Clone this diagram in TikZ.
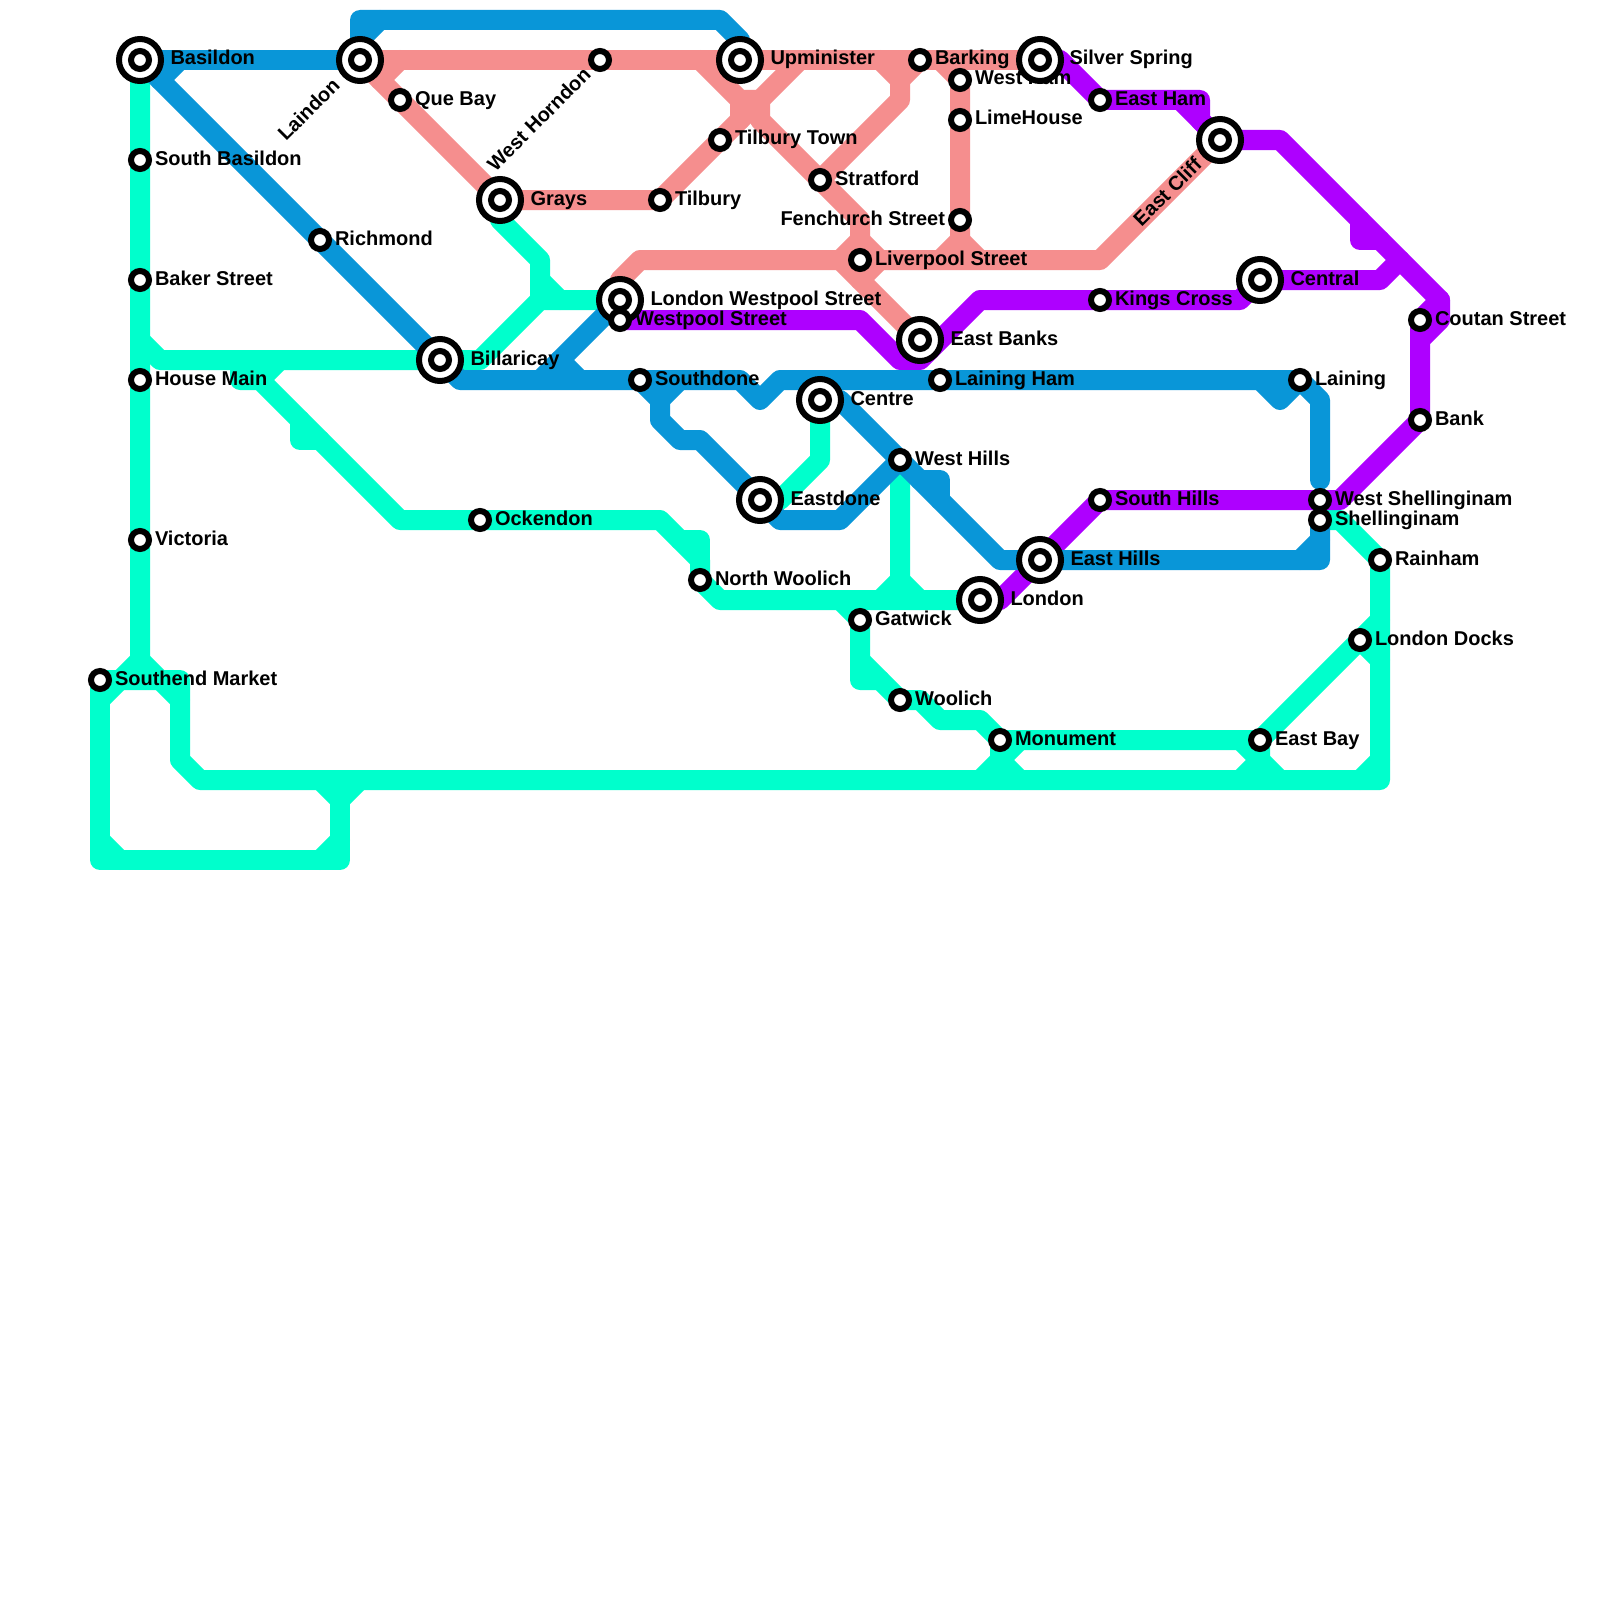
\documentclass[tikz,border=0pt]{standalone}
\usepackage{fontspec}
\setmainfont{Liberation Sans}
\usetikzlibrary{backgrounds}
\definecolor{cblue}{HTML}{0996D8}
\definecolor{csalm}{HTML}{F58E8E}
\definecolor{cturq}{HTML}{00FFCC}
\definecolor{cpurp}{HTML}{AE00FF}
\tikzset{
  railway/.style={line width=10pt,line join=round,line cap=round},
  turq/.style={railway,draw=cturq},
  salm/.style={railway,draw=csalm},
  purp/.style={railway,draw=cpurp},
  blue/.style={railway,draw=cblue},
  smallst/.style={circle,draw=black,fill=white,line width=3pt,minimum size=9pt,inner sep=0pt,outer sep=0pt},
  bigst/.style={circle,draw=black,fill=white,line width=3pt,minimum size=21pt,inner sep=0pt,outer sep=0pt,
    path picture={\draw[line width=3pt,fill=white] (path picture bounding box.center) circle (4.5pt);}},
  lab/.style={anchor=base west,inner sep=0pt,outer sep=0pt,font=\fontsize{10pt}{12pt}\selectfont\bfseries,text=black},
  labr/.style={lab,anchor=base east},
  labd/.style={labr,rotate=45}
}
\begin{document}
\begin{tikzpicture}[x=0.5pt,y=-0.5pt]
\useasboundingbox (0,0) rectangle (1600,1600);
% label that lies under a marker
\node[lab] (lwha) at (975,85) {West Ham};
% interchange markers
\node[bigst] (bas) at (140,60) {};
\node[bigst] (lai) at (360,60) {};
\node[bigst] (gra) at (500,200) {};
\node[bigst] (lws) at (620,300) {};
\node[bigst] (bil) at (440,360) {};
\node[bigst] (upm) at (740,60) {};
\node[bigst] (sil) at (1040,60) {};
\node[bigst] (eba) at (920,340) {};
\node[bigst] (cer) at (1260,280) {};
\node[bigst] (ecl) at (1220,140) {};
\node[bigst] (cen) at (820,400) {};
\node[bigst] (eas) at (760,500) {};
\node[bigst] (ehi) at (1040,560) {};
\node[bigst] (lon) at (980,600) {};
% small markers
\node[smallst] (sba) at (140,160) {};
\node[smallst] (bak) at (140,280) {};
\node[smallst] (hou) at (140,380) {};
\node[smallst] (vic) at (140,540) {};
\node[smallst] (sem) at (100,680) {};
\node[smallst] (ric) at (320,240) {};
\node[smallst] (que) at (400,100) {};
\node[smallst] (wes) at (600,60) {};
\node[smallst] (til) at (660,200) {};
\node[smallst] (ttw) at (720,140) {};
\node[smallst] (str) at (820,180) {};
\node[smallst] (bar) at (920,60) {};
\node[smallst] (wha) at (960,80) {};
\node[smallst] (lim) at (960,120) {};
\node[smallst] (fen) at (960,220) {};
\node[smallst] (liv) at (860,260) {};
\node[smallst] (wst) at (620,320) {};
\node[smallst] (sdo) at (640,380) {};
\node[smallst] (lha) at (940,380) {};
\node[smallst] (whi) at (900,460) {};
\node[smallst] (ock) at (480,520) {};
\node[smallst] (nwo) at (700,580) {};
\node[smallst] (gat) at (860,620) {};
\node[smallst] (woo) at (900,700) {};
\node[smallst] (mon) at (1000,740) {};
\node[smallst] (eha) at (1100,100) {};
\node[smallst] (kin) at (1100,300) {};
\node[smallst] (shi) at (1100,500) {};
\node[smallst] (cou) at (1420,320) {};
\node[smallst] (ban) at (1420,420) {};
\node[smallst] (lng) at (1300,380) {};
\node[smallst] (wsh) at (1320,500) {};
\node[smallst] (shl) at (1320,520) {};
\node[smallst] (rai) at (1380,560) {};
\node[smallst] (ldo) at (1360,640) {};
\node[smallst] (eby) at (1260,740) {};
% labels
\node[lab] (lbas) at (170.5,65) {Basildon};
\node[labd] (llai) at (341,87) {Laindon};
\node[lab] (lgra) at (530.5,205) {Grays};
\node[lab] (llws) at (650.5,305) {London Westpool Street};
\node[lab] (lbil) at (470.5,365) {Billaricay};
\node[lab] (lupm) at (770.5,65) {Upminister};
\node[lab] (lsil) at (1069.5,65) {Silver Spring};
\node[lab] (leba) at (950.5,345) {East Banks};
\node[lab] (lcer) at (1290.5,285) {Central};
\node[labd] (lecl) at (1203,166) {East Cliff};
\node[lab] (lcen) at (850.5,405) {Centre};
\node[lab] (leas) at (790.5,505) {Eastdone};
\node[lab] (lehi) at (1070.5,565) {East Hills};
\node[lab] (llon) at (1010.5,605) {London};
\node[lab] (lsba) at (155,165) {South Basildon};
\node[lab] (lbak) at (155,285) {Baker Street};
\node[lab] (lhou) at (155,385) {House Main};
\node[lab] (lvic) at (155,545) {Victoria};
\node[lab] (lsem) at (115,685) {Southend Market};
\node[lab] (lric) at (335,245) {Richmond};
\node[lab] (lque) at (415,105) {Que Bay};
\node[labd] (lwes) at (592,76) {West Horndon};
\node[lab] (ltil) at (675,205) {Tilbury};
\node[lab] (lttw) at (735,145) {Tilbury Town};
\node[lab] (lstr) at (835,185) {Stratford};
\node[lab] (lbar) at (935,65) {Barking};
\node[lab] (llim) at (975,125) {LimeHouse};
\node[labr] (lfen) at (945,225) {Fenchurch Street};
\node[lab] (lliv) at (875,265) {Liverpool Street};
\node[lab] (lwst) at (635,325) {Westpool Street};
\node[lab] (lsdo) at (655,385) {Southdone};
\node[lab] (llha) at (955,385) {Laining Ham};
\node[lab] (lwhi) at (915,465) {West Hills};
\node[lab] (lock) at (495,525) {Ockendon};
\node[lab] (lnwo) at (715,585) {North Woolich};
\node[lab] (lgat) at (875,625) {Gatwick};
\node[lab] (lwoo) at (915,705) {Woolich};
\node[lab] (lmon) at (1015,745) {Monument};
\node[lab] (leha) at (1115,105) {East Ham};
\node[lab] (lkin) at (1115,305) {Kings Cross};
\node[lab] (lshi) at (1115,505) {South Hills};
\node[lab] (lcou) at (1435,325) {Coutan Street};
\node[lab] (lban) at (1435,425) {Bank};
\node[lab] (llng) at (1315,385) {Laining};
\node[lab] (lwsh) at (1335,505) {West Shellinginam};
\node[lab] (lshl) at (1335,525) {Shellinginam};
\node[lab] (lrai) at (1395,565) {Rainham};
\node[lab] (lldo) at (1375,645) {London Docks};
\node[lab] (leby) at (1275,745) {East Bay};
\begin{scope}[on background layer]
\fill[white] (0,0) rectangle (1600,1600);
% turquoise
\draw[turq] (bas.center)--(sba.center)--(bak.center)--(hou.center)--(vic.center)--(140,660)--(120,680)--(sem.center);
\draw[turq] (140,660)--(160,680);
\draw[turq] (sem.center)--(180,680)--(180,760)--(200,780)--(1380,780)--(rai.center);
\draw[turq] (sem.center)--(100,860)--(340,860)--(340,800);
\draw[turq] (120,680)--(100,700);
\draw[turq] (160,680)--(180,700);
\draw[turq] (100,840)--(120,860);
\draw[turq] (340,840)--(320,860);
\draw[turq] (320,780)--(340,800)--(360,780);
\draw[turq] (140,340)--(160,360)--(bil.center)--(480,360)--(540,300)--(lws.center);
\draw[turq] (gra.center)--(500,220)--(540,260)--(540,300);
\draw[turq] (540,280)--(560,300);
\draw[turq] (240,360)--(240,380)--(260,380)--(400,520)--(ock.center)--(660,520)--(700,560)--(nwo.center)--(720,600)--(lon.center);
\draw[turq] (260,380)--(280,360);
\draw[turq] (300,420)--(300,440)--(320,440);
\draw[turq] (680,540)--(700,540)--(700,560);
\draw[turq] (whi.center)--(900,580)--(880,600);
\draw[turq] (900,580)--(920,600);
\draw[turq] (840,600)--(gat.center)--(860,680)--(880,680);
\draw[turq] (860,660)--(woo.center)--(920,700)--(940,720)--(980,720)--(mon.center)--(eby.center);
\draw[turq] (mon.center)--(1000,760)--(980,780);
\draw[turq] (1000,760)--(1020,780);
\draw[turq] (1020,740)--(1000,760);
\draw[turq] (1240,740)--(1260,760)--(1240,780);
\draw[turq] (eby.center)--(1260,760)--(1280,780);
\draw[turq] (eby.center)--(ldo.center)--(1380,620);
\draw[turq] (ldo.center)--(1380,660);
\draw[turq] (shl.center)--(1340,520)--(rai.center);
\draw[turq] (1380,760)--(1360,780);
\draw[turq] (cen.center)--(820,460)--(780,500)--(eas.center);
% salmon
\draw[salm] (lai.center)--(wes.center)--(upm.center)--(bar.center)--(sil.center);
\draw[salm] (lai.center)--(que.center)--(gra.center)--(til.center)--(ttw.center)--(800,60);
\draw[salm] (400,60)--(380,80);
\draw[salm] (700,60)--(740,100)--(760,100)--(760,120)--(str.center)--(860,220)--(860,240)--(liv.center);
\draw[salm] (740,100)--(740,120);
\draw[salm] (880,60)--(900,80)--(900,100)--(str.center);
\draw[salm] (bar.center)--(900,80);
\draw[salm] (940,60)--(wha.center)--(lim.center)--(fen.center)--(960,240)--(940,260);
\draw[salm] (960,240)--(980,260);
\draw[salm] (lws.center)--(620,280)--(640,260)--(liv.center)--(1100,260)--(ecl.center);
\draw[salm] (860,240)--(840,260)--(eba.center);
\draw[salm] (860,240)--(880,260)--(860,280);
% purple
\draw[purp] (wst.center)--(860,320)--(900,360)--(920,360)--(980,300)--(kin.center)--(1240,300)--(cer.center)--(1380,280)--(1400,260);
\draw[purp] (sil.center)--(1060,60)--(eha.center)--(1200,100)--(1200,120)--(ecl.center);
\draw[purp] (1180,100)--(ecl.center);
\draw[purp] (ecl.center)--(1280,140)--(1440,300)--(1440,320)--(1420,340)--(ban.center)--(1340,500)--(wsh.center)--(shi.center)--(ehi.center)--(1000,600)--(lon.center);
\draw[purp] (1360,220)--(1360,240)--(1380,240);
\draw[purp] (1440,300)--(cou.center)--(1420,340);
% blue
\draw[blue] (bas.center)--(lai.center);
\draw[blue] (180,60)--(160,80);
\draw[blue] (bas.center)--(ric.center)--(bil.center)--(460,380)--(sdo.center)--(740,380)--(760,400)--(780,380)--(lha.center)--(lng.center)--(1320,400)--(1320,480);
\draw[blue] (1260,380)--(1280,400)--(lng.center);
\draw[blue] (lai.center)--(360,20)--(720,20)--(740,40)--(upm.center);
\draw[blue] (380,20)--(360,40);
\draw[blue] (lws.center)--(540,380);
\draw[blue] (560,360)--(580,380);
\draw[blue] (sdo.center)--(660,400)--(660,420)--(680,440)--(700,440)--(eas.center)--(780,520)--(840,520)--(whi.center);
\draw[blue] (680,380)--(660,400);
\draw[blue] (cen.center)--(840,400)--(whi.center)--(1000,560)--(ehi.center)--(1320,560)--(shl.center);
\draw[blue] (920,480)--(940,480)--(940,500);
\draw[blue] (1320,540)--(1300,560);
\end{scope}
\end{tikzpicture}
\end{document}
